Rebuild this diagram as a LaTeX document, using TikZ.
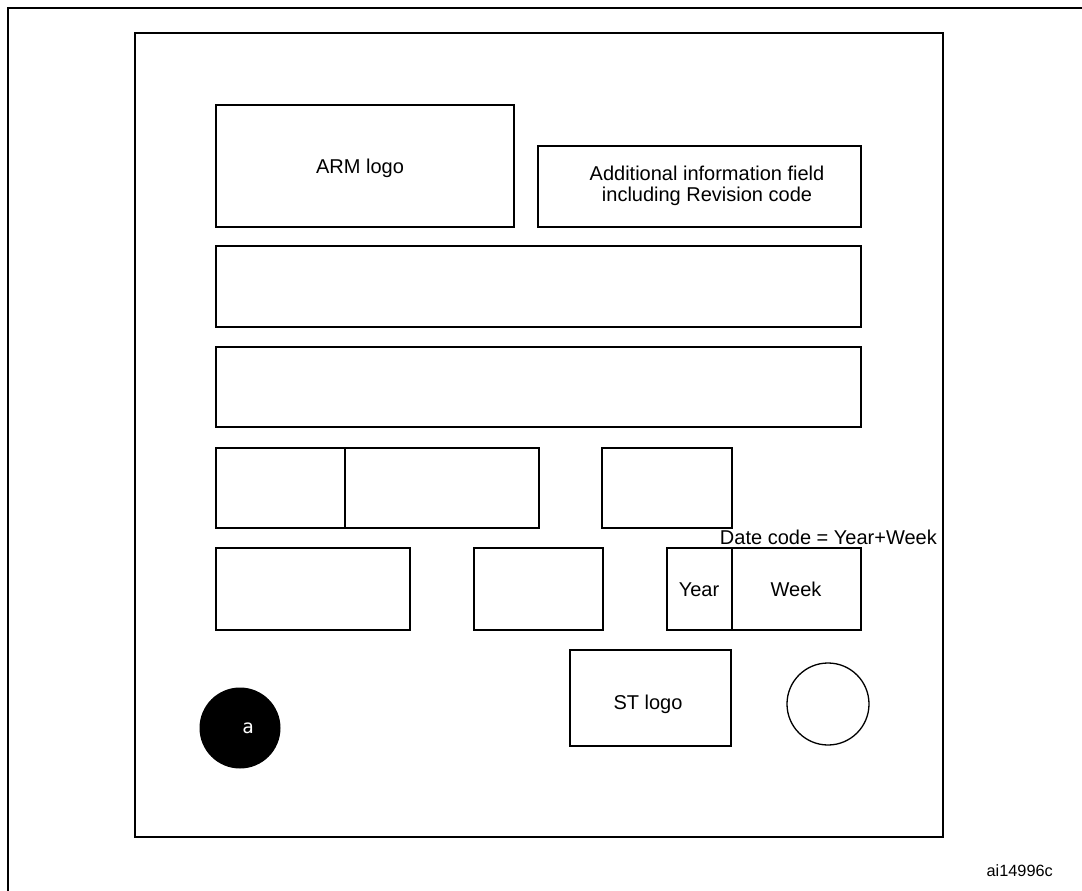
\documentclass[tikz,border=0pt]{standalone}
\usepackage{fontspec}
\setmainfont{Liberation Sans}
\newfontfamily\monof{DejaVu Sans Mono}
\usetikzlibrary{fit}
\begin{document}
\begin{tikzpicture}[x=1pt,y=-1pt,
  fld/.style={draw, line width=1.3pt, inner sep=0pt, outer sep=0pt, align=center},
  frm/.style={draw, line width=1.6pt},
  lbl/.style={inner sep=0pt, anchor=base, font=\fontsize{20}{20.5}\selectfont}]
\useasboundingbox (0,0) rectangle (1082,891);
% outer frame (partially visible)
\coordinate (fbl) at (8,895);
\coordinate (ftl) at (8,8);
\coordinate (ftr) at (1090,8);
\draw[frm] (fbl) -- (ftl) -- (ftr);
% inner frame
\node[frm, inner sep=0pt, fit={(135,33) (943,837)}] (chip) {};
% fields
\node[fld, fit={(216,105) (514,227)}] (arm) {};
\node[lbl] (armt) at (360,173) {ARM logo};
\node[fld, fit={(538,146) (861,227)}] (addinfo) {};
\node[lbl] (add1) at (707,180) {Additional information field};
\node[lbl] (add2) at (707,201) {including Revision code};
\node[fld, fit={(216,246) (861,327)}] (row1) {};
\node[fld, fit={(216,347) (861,427)}] (row2) {};
\node[fld, fit={(216,448) (345,528)}] (r3a) {};
\node[fld, fit={(345,448) (539,528)}] (r3b) {};
\node[fld, fit={(602,448) (732,528)}] (r3c) {};
\node[fld, fit={(216,548) (410,630)}] (r4a) {};
\node[fld, fit={(474,548) (603,630)}] (r4b) {};
\node[fld, fit={(667,548) (732,630)}] (year) {};
\node[lbl] (yeart) at (699,596) {Year};
\node[fld, fit={(732,548) (861,630)}] (week) {};
\node[lbl] (weekt) at (796,596) {Week};
\node[lbl, anchor=base east] (datecode) at (937,544) {Date code = Year+Week};
\node[fld, fit={(570,650) (731,746)}] (st) {};
\node[lbl] (stt) at (648,709) {ST logo};
\node[draw, line width=1.3pt, circle, minimum size=82pt, inner sep=0pt] (pin) at (828,704) {};
\node[fill=black, circle, minimum size=81pt, inner sep=0pt] (dot) at (240,728) {};
\node[text=white, inner sep=0pt, anchor=base, font=\monof\fontsize{19}{19}\selectfont] (a) at (248,733) {a};
\node[inner sep=0pt, anchor=base east, font=\fontsize{16.3}{17}\selectfont] (ref) at (1053,876) {ai14996c};
\end{tikzpicture}
\end{document}
